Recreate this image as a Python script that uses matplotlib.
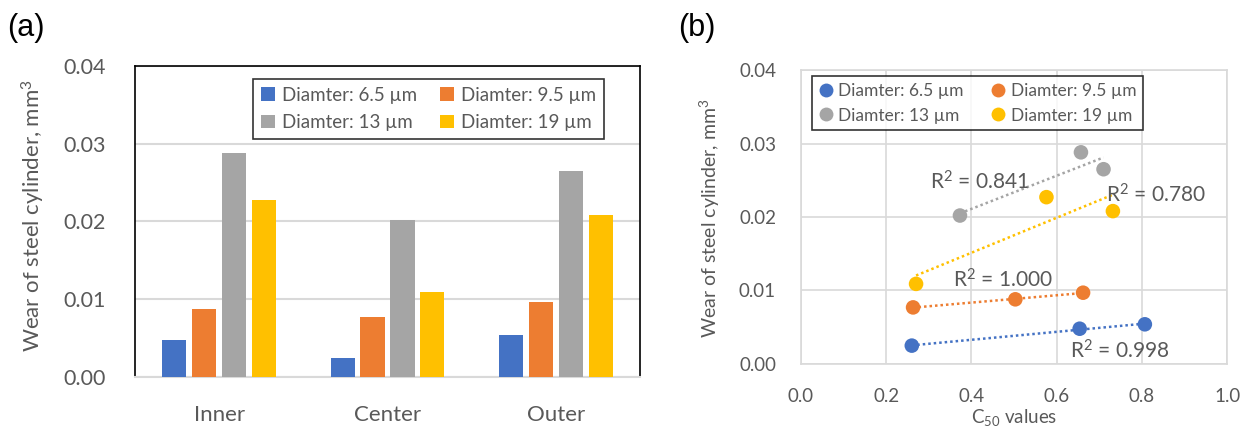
import numpy as np
import matplotlib
matplotlib.use("Agg")
import matplotlib.pyplot as plt
from matplotlib.lines import Line2D
from matplotlib.patches import Patch

plt.rcParams["font.family"] = ["Lato", "DejaVu Sans"]
plt.rcParams["mathtext.fontset"] = "custom"
plt.rcParams["mathtext.rm"] = "Lato"
plt.rcParams["mathtext.it"] = "Lato:italic"

# ---- data -------------------------------------------------------------
categories = ["Inner", "Center", "Outer"]
series_labels = ["Diamter: 6.5 µm", "Diamter: 9.5 µm", "Diamter: 13 µm", "Diamter: 19 µm"]
series_colors = ["#4472C4", "#ED7D31", "#A5A5A5", "#FFC000"]

# wear of steel cylinder (mm^3), ordered Inner, Center, Outer
wear_6_5 = [0.0048, 0.0025, 0.0054]
wear_9_5 = [0.0088, 0.0077, 0.0097]
wear_13 = [0.0288, 0.0202, 0.0265]
wear_19 = [0.0227, 0.0109, 0.0208]

# C50 values, same ordering
c50_6_5 = [0.654, 0.260, 0.807]
c50_9_5 = [0.503, 0.263, 0.662]
c50_13 = [0.657, 0.373, 0.710]
c50_19 = [0.576, 0.270, 0.732]

r2_text = ["R$^{2}$ = 0.998", "R$^{2}$ = 1.000", "R$^{2}$ = 0.841", "R$^{2}$ = 0.780"]
r2_pos = [(0.747, 0.0018), (0.474, 0.0114), (0.42, 0.0248), (0.834, 0.0230)]

wear = [wear_6_5, wear_9_5, wear_13, wear_19]
c50 = [c50_6_5, c50_9_5, c50_13, c50_19]

TXT = "#595959"
GRID = "#D9D9D9"
YLABEL = "Wear of steel cylinder, mm$^{3}$"
# legend entries laid out row by row in two columns
ORDER = [0, 2, 1, 3]

fig = plt.figure(figsize=(12.52, 4.30), dpi=100)

# ---- (a) bar chart ------------------------------------------------------
axa = fig.add_axes([0.1078, 0.1233, 0.4034, 0.7233])
x = np.arange(len(categories))
bw = 0.143
step = 0.178
for i, (vals, col, lab) in enumerate(zip(wear, series_colors, series_labels)):
    axa.bar(x + (i - 1.5) * step, vals, width=bw, color=col, label=lab, zorder=3)
axa.set_xlim(-0.5, 2.5)
axa.set_ylim(0, 0.04)
axa.set_yticks([0, 0.01, 0.02, 0.03, 0.04])
axa.set_yticklabels(["0.00", "0.01", "0.02", "0.03", "0.04"])
axa.set_xticks(x)
axa.set_xticklabels(categories)
axa.yaxis.grid(True, color=GRID, lw=1.5, zorder=0)
axa.tick_params(axis="both", length=0, colors=TXT, labelsize=15.5)
axa.tick_params(axis="x", pad=20, labelsize=16)
axa.tick_params(axis="y", pad=21)
for s in ["top", "left", "right"]:
    axa.spines[s].set_color("black")
    axa.spines[s].set_linewidth(1.2)
axa.spines["bottom"].set_color(GRID)
axa.spines["bottom"].set_linewidth(1.5)
axa.set_ylabel(YLABEL, fontsize=16, color=TXT)
axa.yaxis.set_label_coords(-0.175, 0.52)
handles_a = [Patch(facecolor=c, edgecolor="none") for c in series_colors]
lega = axa.legend([handles_a[i] for i in ORDER], [series_labels[i] for i in ORDER],
                  ncol=2, loc="upper left",
                  bbox_to_anchor=(0.234, 0.957), fontsize=13.5, frameon=True,
                  fancybox=False, edgecolor="black", handlelength=0.75,
                  handleheight=0.75, handletextpad=0.4, columnspacing=1.2,
                  borderpad=0.4, labelspacing=0.55, borderaxespad=0)
lega.get_frame().set_linewidth(1.2)
for t in lega.get_texts():
    t.set_color(TXT)

# ---- (b) scatter with linear trendlines ---------------------------------
axb = fig.add_axes([0.6398, 0.1535, 0.3403, 0.6837])
for xs, ys, col, lab in zip(c50, wear, series_colors, series_labels):
    xs = np.asarray(xs)
    ys = np.asarray(ys)
    k, b = np.polyfit(xs, ys, 1)
    xl = np.array([xs.min(), xs.max()])
    axb.plot(xl, k * xl + b, ls=(0, (1, 1.2)), lw=1.8, color=col, zorder=3)
    axb.scatter(xs, ys, s=110, color=col, label=lab, zorder=4, edgecolors="none")
for txt, (tx, ty) in zip(r2_text, r2_pos):
    axb.text(tx, ty, txt, ha="center", va="center", fontsize=15, color=TXT, zorder=5)
axb.set_xlim(0, 1.0)
axb.set_ylim(0, 0.04)
axb.set_xticks([0, 0.2, 0.4, 0.6, 0.8, 1.0])
axb.set_xticklabels(["0.0", "0.2", "0.4", "0.6", "0.8", "1.0"])
axb.set_yticks([0, 0.01, 0.02, 0.03, 0.04])
axb.set_yticklabels(["0.00", "0.01", "0.02", "0.03", "0.04"])
axb.grid(True, color=GRID, lw=1.2, zorder=0)
axb.tick_params(axis="both", length=0, colors=TXT, labelsize=13.5)
axb.tick_params(axis="x", pad=17)
axb.tick_params(axis="y", pad=18)
for s in axb.spines.values():
    s.set_color(GRID)
    s.set_linewidth(1.2)
axb.set_ylabel(YLABEL, fontsize=14, color=TXT)
axb.yaxis.set_label_coords(-0.185, 0.495)
axb.set_xlabel("C$_{50}$ values", fontsize=13.5, color=TXT)
axb.xaxis.set_label_coords(0.5, -0.145)
handles_b = [Line2D([], [], ls="none", marker="o", markersize=10,
                    markerfacecolor=c, markeredgecolor="none") for c in series_colors]
legb = axb.legend([handles_b[i] for i in ORDER], [series_labels[i] for i in ORDER],
                  ncol=2, loc="upper left",
                  bbox_to_anchor=(0.026, 0.980), fontsize=12.5, frameon=True,
                  fancybox=False, edgecolor="black", handlelength=0.8,
                  handletextpad=0.3, columnspacing=1.6, borderpad=0.4,
                  labelspacing=0.5, borderaxespad=0)
legb.get_frame().set_linewidth(1.2)
for t in legb.get_texts():
    t.set_color(TXT)

# ---- panel tags ---------------------------------------------------------
fig.text(7 / 1252, 1 - 28 / 430, "(a)", fontsize=22, family="Liberation Sans",
         ha="left", va="center")
fig.text(678 / 1252, 1 - 28 / 430, "(b)", fontsize=22, family="Liberation Sans",
         ha="left", va="center")

fig.savefig("out.png", dpi=100)
